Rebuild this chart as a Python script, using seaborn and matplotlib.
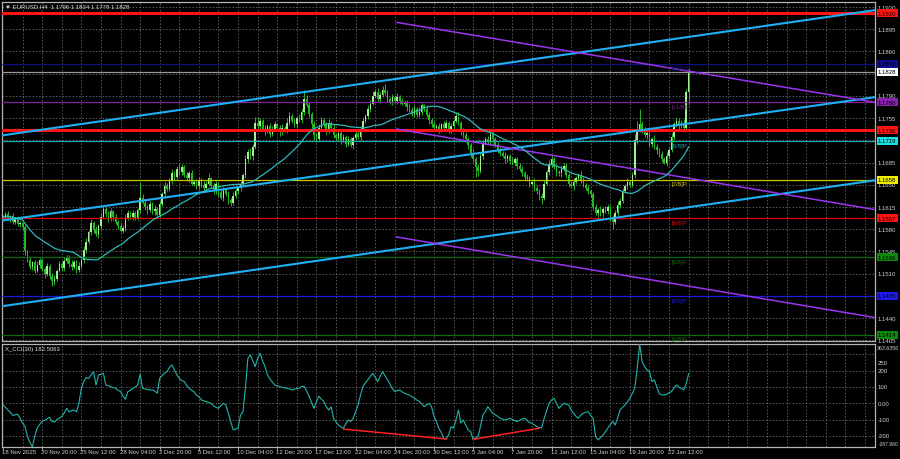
import numpy as np
import pandas as pd
import matplotlib
matplotlib.use("Agg")
import matplotlib.pyplot as plt
import matplotlib.transforms as mtransforms
import seaborn as sns

# ---------------- data ----------------
symbol = "EURUSD"
timeframe = "H4"
first_open = 1.1596
close = [
    1.1598, 1.1604, 1.1597, 1.1601, 1.1592, 1.1596, 1.1588, 1.1590, 1.1583,
    1.1545, 1.1532, 1.1521, 1.1528, 1.1515, 1.1524, 1.1531, 1.1518, 1.1510, 1.1522, 1.1507, 1.1498,
    1.1502, 1.1515, 1.1525, 1.1519, 1.1530, 1.1537, 1.1526, 1.1520, 1.1528, 1.1516, 1.1522, 1.1531,
    1.1548, 1.1560, 1.1575, 1.1590, 1.1580, 1.1572, 1.1585, 1.1600, 1.1612, 1.1604, 1.1596, 1.1608, 1.1600, 1.1592, 1.1585, 1.1578,
    1.1582, 1.1598, 1.1606, 1.1600, 1.1605, 1.1598, 1.1610, 1.1630, 1.1622, 1.1615, 1.1610, 1.1619, 1.1608, 1.1612, 1.1603, 1.1620,
    1.1635, 1.1648, 1.1644, 1.1656, 1.1668, 1.1662, 1.1675, 1.1670, 1.1678, 1.1665, 1.1660, 1.1668, 1.1652,
    1.1655, 1.1648, 1.1658, 1.1650, 1.1645, 1.1652, 1.1660, 1.1648, 1.1640, 1.1652, 1.1638, 1.1630, 1.1642, 1.1636, 1.1626, 1.1622, 1.1632, 1.1640,
    1.1645, 1.1652, 1.1665, 1.1690, 1.1702, 1.1695, 1.1710, 1.1748,
    1.1742, 1.1750, 1.1738, 1.1735, 1.1742, 1.1730, 1.1738, 1.1745, 1.1740, 1.1733, 1.1740, 1.1736, 1.1748, 1.1758, 1.1750, 1.1745, 1.1755, 1.1752, 1.1765,
    1.1785, 1.1776, 1.1762, 1.1745, 1.1728, 1.1722, 1.1740, 1.1752, 1.1745, 1.1735, 1.1748, 1.1740,
    1.1728, 1.1724, 1.1732, 1.1720, 1.1726, 1.1715, 1.1722, 1.1712, 1.1724, 1.1730, 1.1725, 1.1738, 1.1750, 1.1758,
    1.1770, 1.1778, 1.1790, 1.1796, 1.1785, 1.1792, 1.1800, 1.1795, 1.1785, 1.1780, 1.1788, 1.1782,
    1.1788, 1.1782, 1.1778, 1.1780, 1.1772, 1.1768, 1.1762, 1.1770, 1.1760, 1.1765, 1.1775, 1.1770, 1.1760, 1.1752, 1.1745, 1.1740,
    1.1742, 1.1736, 1.1745, 1.1740, 1.1748, 1.1735, 1.1742, 1.1750, 1.1758, 1.1748, 1.1735, 1.1728, 1.1722,
    1.1712, 1.1700, 1.1690, 1.1678, 1.1672, 1.1695, 1.1715, 1.1722, 1.1718, 1.1730, 1.1722,
    1.1712, 1.1705, 1.1700, 1.1696, 1.1690, 1.1695, 1.1688, 1.1684, 1.1690, 1.1680, 1.1675, 1.1668, 1.1662,
    1.1660, 1.1652, 1.1655, 1.1645, 1.1640, 1.1632, 1.1630, 1.1652, 1.1670,
    1.1682, 1.1690, 1.1678, 1.1670, 1.1668, 1.1675, 1.1680, 1.1665, 1.1652, 1.1648, 1.1655, 1.1660, 1.1665, 1.1658, 1.1650, 1.1645, 1.1640, 1.1636,
    1.1615, 1.1606, 1.1610, 1.1605, 1.1612, 1.1608, 1.1615, 1.1598, 1.1592, 1.1605, 1.1618, 1.1625, 1.1640,
    1.1648, 1.1655, 1.1650, 1.1665, 1.1720, 1.1738, 1.1745,
    1.1735, 1.1728, 1.1732, 1.1715, 1.1722, 1.1710, 1.1705, 1.1698, 1.1690, 1.1685, 1.1695, 1.1705,
    1.1725, 1.1745, 1.1750, 1.1742, 1.1748, 1.1740, 1.1796, 1.1828,
]
# wick lengths beyond the candle body, in pips
wick_up = [
    4, 3, 5, 2, 4, 3, 5, 3, 2, 4, 3, 5, 2, 4, 6, 3, 4, 2, 5, 3,
    4, 6, 3, 5, 4, 6, 3, 2, 5, 4, 3, 6, 4, 5, 7, 4, 6, 3, 5, 4,
    6, 5, 3, 4, 6, 2, 4, 3, 5, 4, 6, 4, 3, 5, 4, 3, 24, 5, 4, 3,
    5, 4, 6, 3, 5, 4, 6, 5, 4, 7, 3, 5, 8, 4, 3, 5, 4, 6, 3, 4,
    5, 3, 6, 4, 8, 3, 5, 4, 3, 6, 4, 3, 5, 4, 6, 5, 3, 6, 4, 7,
    5, 6, 4, 8, 9, 5, 4, 6, 3, 5, 4, 6, 3, 4, 5, 3, 7, 6, 4, 5,
    4, 6, 5, 15, 6, 4, 3, 5, 4, 6, 5, 3, 4, 6, 3, 5, 4, 3, 5, 4,
    3, 5, 4, 3, 6, 4, 5, 6, 4, 5, 6, 7, 5, 6, 4, 5, 8, 4, 3, 5,
    4, 6, 3, 5, 4, 3, 5, 4, 6, 3, 8, 4, 3, 5, 4, 3, 5, 4, 6, 3,
    5, 4, 3, 5, 4, 6, 7, 3, 4, 5, 3, 4, 6, 3, 4, 5, 6, 4, 5, 7,
    4, 3, 5, 4, 3, 6, 4, 3, 5, 4, 3, 5, 4, 3, 5, 4, 3, 6, 4, 3,
    5, 6, 4, 7, 6, 4, 5, 3, 6, 4, 5, 3, 4, 5, 4, 3, 6, 4, 3, 5,
    4, 3, 5, 4, 6, 3, 4, 5, 3, 4, 5, 6, 4, 5, 4, 6, 3, 5, 10, 12,
    25, 5, 6, 4, 5, 3, 6, 4, 3, 5, 4, 6, 5, 6, 4, 7, 5, 4, 6, 5, 6,
]
wick_dn = [
    3, 4, 2, 5, 3, 4, 3, 5, 4, 6, 4, 3, 5, 4, 3, 5, 4, 6, 3, 5,
    8, 6, 4, 3, 5, 4, 3, 5, 4, 3, 5, 4, 3, 4, 5, 3, 4, 6, 3, 5,
    4, 3, 5, 4, 3, 6, 4, 5, 3, 4, 5, 3, 4, 5, 3, 4, 5, 3, 4, 6,
    3, 4, 5, 3, 4, 3, 5, 4, 3, 5, 4, 3, 4, 5, 3, 4, 5, 3, 4, 5,
    4, 3, 5, 6, 4, 3, 5, 4, 6, 3, 5, 4, 6, 5, 4, 3, 5, 4, 3, 4,
    5, 4, 6, 3, 5, 4, 3, 6, 4, 5, 3, 4, 5, 6, 4, 3, 5, 4, 3, 4,
    5, 3, 4, 5, 4, 6, 5, 7, 4, 3, 5, 4, 6, 3, 4, 5, 3, 4, 6, 3,
    5, 4, 3, 6, 4, 3, 5, 4, 3, 4, 5, 3, 4, 5, 6, 3, 4, 5, 3, 4,
    3, 4, 5, 3, 4, 6, 3, 4, 5, 3, 4, 5, 3, 4, 6, 4, 3, 5, 4, 3,
    4, 5, 3, 4, 5, 3, 4, 6, 5, 4, 5, 6, 4, 15, 8, 4, 5, 3, 4, 5,
    4, 3, 5, 4, 3, 5, 4, 6, 3, 4, 5, 3, 4, 5, 4, 6, 3, 5, 4, 6,
    10, 4, 3, 5, 4, 3, 6, 4, 5, 3, 4, 5, 3, 6, 4, 3, 5, 4, 3, 4,
    5, 4, 3, 6, 4, 5, 3, 4, 5, 12, 4, 3, 5, 4, 3, 5, 4, 3, 4, 5,
    5, 4, 3, 6, 4, 5, 4, 6, 5, 4, 3, 5, 4, 3, 5, 4, 6, 3, 4, 3, 18,
]
ma_period = 30
cci_name = "X_CCI(30)"
cci = [
    -10, -25, -41, -55, -75, -70, -67, -92, -120, -143, -204, -240,
    -267.96, -200, -150,
    -130, -110, -104, -95, -86, -110, -116, -100, -92, -80, -60, -31, -52, -45, -41, -52, 0,
    90, 133, 158, 153, 175, 194, 112, 174, 178, 184, 112, 108, 102, 96, 92, 80, 72,
    45, 25, 72, 80, 92, 100, 112, 178, 92, 88, 84, 82, 82, 75, 62, 153,
    170, 185, 194, 220, 235, 204, 175, 153, 140, 133, 110, 92, 80, 72, 50, 41,
    21, 15, 10, 5, 0, -15, -25, -31, -15, 0, -10, -60, -112, -163, -158, -153, -72, -52, 92,
    276, 296, 260, 225, 276, 307, 260, 225, 174, 150, 130, 112, 108, 102, 98, 95, 92, 88, 82, 86, 90, 92,
    104, 104, 75, 43, 5, -31, 10, 43, 25, 12, -20, -41, -21, -92, -115, -133, -145, -153, -125, -102, -112, -92, -50, -10, 50,
    104, 125, 145, 165, 184, 160, 133, 165, 194, 170, 145, 120, 90, 72, 78, 82, 70, 61, 55, 51, 40, 31, 20, 12, -5, -21, -10, 0, -21,
    -80, -112, -153, -180, -215, -218, -194, -143, -153, -100, -41, -122, -102, -135, -163, -174, -221, -210, -204, -140, -72, -50, -21, -40,
    -61, -70, -80, -92, -97, -102, -98, -92, -100, -106, -112, -104, -96, -92, -105, -118, -122, -132, -143, -150, -150, -92, -45,
    0, 20, 31, 0, -31, -15, 0, -5, -10, -40, -61, -80, -92, -70, -61, -55, -52, -75, -92, -204, -225,
    -210, -194, -175, -153, -130, -112, -133, -90, -41, -25, -10, 10, 31, 60, 92, 215, 363.6356,
    256, 225, 205, 194, 133, 143, 100, 60, 51, 51, 55, 65, 72, 95, 112, 100, 92, 82, 120, 182.5063,
]
cci_max = 363.6356
cci_min = -267.960
cci_tick_values = [250, 200, 100, 0, -100, -200]
cci_tick_labels = ["250", "200", "100", "0.00", "-100", "-200"]
cci_grid_values = [300, 200, 100, 0, -100, -200]
# divergence lines on the CCI (bar, value) pairs
div_bars = [[139, 181], [192, 219]]
div_vals = [[-158, -219], [-221, -153]]

date_labels = ["18 Nov 2025", "20 Nov 20:00", "25 Nov 12:00", "28 Nov 04:00", "2 Dec 20:00",
               "5 Dec 12:00", "10 Dec 04:00", "12 Dec 20:00", "17 Dec 12:00", "22 Dec 04:00",
               "24 Dec 20:00", "30 Dec 12:00", "5 Jan 04:00", "7 Jan 20:00", "12 Jan 12:00",
               "15 Jan 04:00", "19 Jan 20:00", "22 Jan 12:00"]
bars_per_label = 16
price_ticks = [1.1405, 1.1440, 1.1475, 1.1510, 1.1545, 1.1580, 1.1615, 1.1650,
               1.1685, 1.1720, 1.1755, 1.1790, 1.1825, 1.1860, 1.1895, 1.1930]

# horizontal levels
level_values = [1.1920, 1.1841, 1.1828, 1.1780, 1.1736, 1.1719, 1.1658, 1.1597, 1.1536, 1.1475, 1.1414]
level_colors = ["#ff1414", "#10108a", "#9a9a9a", "#80209a", "#ff1414", "#1aa8a8",
                "#c8c800", "#e00000", "#0c6a0c", "#1c1cd8", "#0c6a0c"]
level_widths = [2.2, 0.9, 0.9, 0.9, 2.2, 0.9, 0.9, 0.9, 0.9, 0.9, 0.9]
level_box = ["#ff1414", "#10108a", "#ffffff", "#8a20b0", "#ff1414", "#19e0e0",
             "#f0f000", "#ff1414", "#0c8a0c", "#1c1cf0", "#0c8a0c"]
murrey_values = [1.1841, 1.1780, 1.1719, 1.1658, 1.1597, 1.1536, 1.1475, 1.1414]
murrey_names = ["[+2/8]P", "[+1/8]P", "[8/8]P", "[7/8]P", "[6/8]P", "[5/8]P", "[4/8]P", "[3/8]P"]
murrey_colors = ["#10108a", "#80209a", "#1aa8a8", "#c8c800", "#e00000", "#0c6a0c", "#1c1cd8", "#0c6a0c"]
murrey_bar = 273

# rising channel (bar, price) anchors
chan_bars = [0, 356]
chan_upper = [1.1728, 1.1925]
chan_mid = [1.1594, 1.1788]
chan_lower = [1.1459, 1.1657]
# falling channel anchors
fall_bars = [160.5, 356]
fall_top = [1.1906, 1.1780]
fall_mid = [1.1738, 1.1611]
fall_bot = [1.1568, 1.1441]

# ---------------- build ----------------
n = min(len(close), len(wick_up), len(wick_dn), len(cci))
c = np.array(close[:n])
o = np.r_[first_open, c[:-1]]
hi = np.maximum(o, c) + np.array(wick_up[:n]) * 1e-4
lo = np.minimum(o, c) - np.array(wick_dn[:n]) * 1e-4
idx = np.arange(n)
df = pd.DataFrame({"bar": idx, "open": o, "close": c, "high": hi, "low": lo,
                   "cci": np.array(cci[:n], dtype=float)})
df["ma"] = df["close"].rolling(ma_period, min_periods=1).mean()

sns.set_theme(style="dark", rc={"axes.facecolor": "black", "figure.facecolor": "black",
                                "axes.edgecolor": "#b0b0b0", "text.color": "#d8d8d8"})
plt.rcParams["font.family"] = ["Liberation Sans", "DejaVu Sans"]

W, H = 900, 460
FS = 4.3
fig = plt.figure(figsize=(W / 100, H / 100), dpi=100, facecolor="black")


def rect(x0, y0, x1, y1):
    return [x0 / W, 1 - y1 / H, (x1 - x0) / W, (y1 - y0) / H]


ax = fig.add_axes(rect(2, 3, 875, 342))
axc = fig.add_axes(rect(2, 345, 875, 448))
XL = (-0.4, 356.1)
for a in (ax, axc):
    a.set_facecolor("black")
    a.set_xlim(*XL)
    a.set_xticks([])
    a.set_yticks([])
    a.grid(False)
    for s in a.spines.values():
        s.set_color("#b4b4b4")
        s.set_linewidth(0.9)
ax.set_ylim(1.14040, 1.19379)
axc.set_ylim(cci_min, cci_max)

grid_kw = dict(color="#7c7c7c", lw=0.5, ls=(0, (2.2, 2.6)), zorder=0.5)
for v in price_ticks:
    ax.axhline(v, **grid_kw)
for v in cci_grid_values:
    axc.axhline(v, **grid_kw)
for b in np.arange(8, XL[1], 8):
    ax.axvline(b, **grid_kw)
    axc.axvline(b, **grid_kw)

# levels
for v, col, lw in zip(level_values, level_colors, level_widths):
    ax.axhline(v, color=col, lw=lw, zorder=5)

# channels
for ys in (chan_upper, chan_mid, chan_lower):
    ax.axline((chan_bars[0], ys[0]), (chan_bars[1], ys[1]), color="#1eb0f4", lw=1.5, zorder=6)
for ys in (fall_top, fall_mid, fall_bot):
    ax.plot(fall_bars, ys, color="#9a35f0", lw=1.1, zorder=6, solid_capstyle="butt")

# candles
bull = df["close"] >= df["open"]
ax.vlines(df["bar"], df["low"], df["high"], colors="#30d030", lw=0.6, zorder=3)
body = (df["close"] - df["open"]).where((df["close"] - df["open"]).abs() > 4e-5, 4e-5)
ax.bar(df["bar"], body, bottom=df["open"], width=0.62,
       color=np.where(bull, "#a2ee92", "#1fbd1f"), linewidth=0, zorder=4)

# moving average
sns.lineplot(data=df, x="bar", y="ma", ax=ax, color="#2fb8b8", lw=0.9, zorder=7, legend=False)
ax.set_xlabel("")
ax.set_ylabel("")

# murrey labels
for v, name, col in zip(murrey_values, murrey_names, murrey_colors):
    ax.annotate(name, (murrey_bar, v), xytext=(0, -3.0), textcoords="offset points",
                color=col, fontsize=FS, va="center", ha="left", zorder=8)

# CCI
sns.lineplot(data=df, x="bar", y="cci", ax=axc, color="#22b4aa", lw=0.8, zorder=4, legend=False)
axc.set_xlabel("")
axc.set_ylabel("")
for bs, vs in zip(div_bars, div_vals):
    axc.plot(bs, vs, color="#ff2020", lw=1.1, zorder=5)

# ---------------- text ----------------
tr_p = mtransforms.blended_transform_factory(fig.transFigure, ax.transData)
tr_c = mtransforms.blended_transform_factory(fig.transFigure, axc.transData)
xl = 878 / W
for v in price_ticks:
    # labels hidden behind a level box are not drawn
    if min(abs(v - lv) for lv in level_values) < 0.0006:
        continue
    fig.text(xl, v, f"{v:.4f}", transform=tr_p, fontsize=FS, color="#d0d0d0",
             va="center", ha="left")
for v, bc in zip(level_values, level_box):
    fig.text(xl, v, f"{v:.4f}", transform=tr_p, fontsize=FS, color="black",
             va="center", ha="left", zorder=10,
             bbox=dict(boxstyle="square,pad=0.25", fc=bc, ec="none"))

for v, s in zip(cci_tick_values, cci_tick_labels):
    fig.text(xl, v, s, transform=tr_c, fontsize=FS, color="#d0d0d0", va="center", ha="left")
fig.text(877 / W, 1 - 348.5 / H, f"{cci_max:.4f}", fontsize=3.8, color="#d0d0d0",
         va="center", ha="left")
fig.text(879 / W, 1 - 445 / H, f"{cci_min:.3f}", fontsize=3.6, color="#d0d0d0",
         va="center", ha="left")

last = df.iloc[-1]
title = f"\u25bc {symbol},{timeframe}  {last.open:.4f} {last.high:.4f} {last.low:.4f} {last.close:.4f}"
fig.text(5 / W, 1 - 6.5 / H, title, fontsize=FS, color="#e0e0e0", va="center", ha="left",
         family=["Liberation Sans", "DejaVu Sans"])
fig.text(5 / W, 1 - 349.5 / H, f"{cci_name} {df['cci'].iloc[-1]:.4f}", fontsize=FS,
         color="#e0e0e0", va="center", ha="left")

tr_x = mtransforms.blended_transform_factory(axc.transData, fig.transFigure)
for k, lab in enumerate(date_labels):
    b = k * bars_per_label
    fig.text(b - 0.4, 1 - 452.5 / H, lab, transform=tr_x, fontsize=FS, color="#d0d0d0",
             va="center", ha="left")
    fig.add_artist(plt.Line2D([b, b], [1 - 448 / H, 1 - 450.5 / H], transform=tr_x,
                              color="#b4b4b4", lw=0.6))

fig.savefig("out.png", dpi=100, facecolor="black")
